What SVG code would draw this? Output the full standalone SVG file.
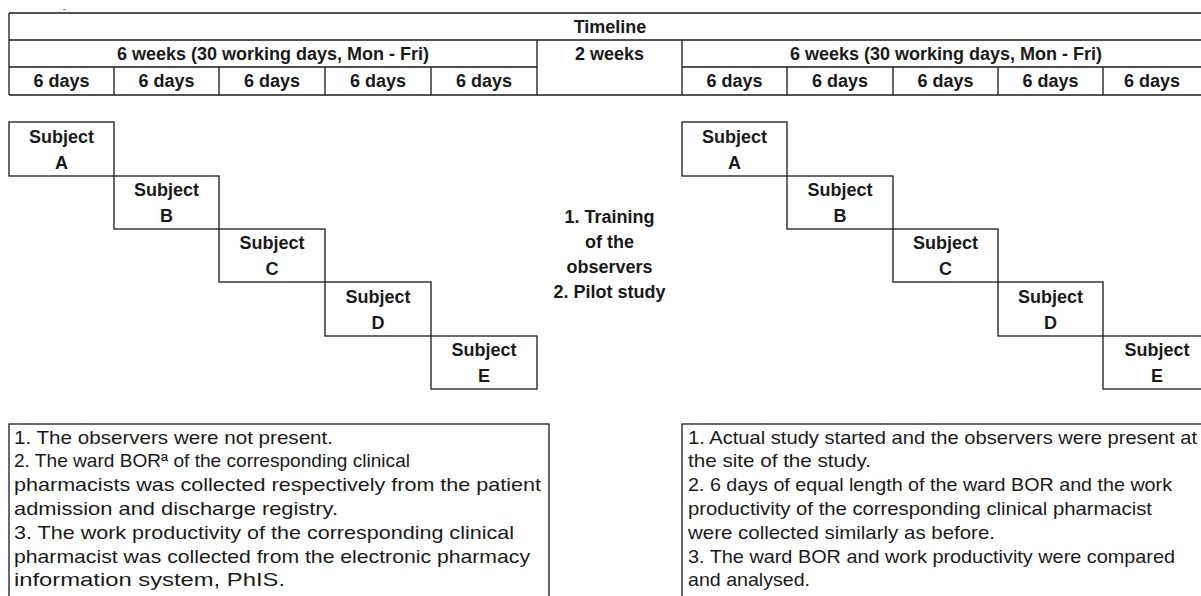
<svg xmlns="http://www.w3.org/2000/svg" width="1201" height="596" viewBox="0 0 1201 596">
<style>
 .ln{stroke:#1a1a1a;stroke-width:1.3;fill:none}
 .bx{fill:none;stroke:#1a1a1a;stroke-width:1.3}
 .b{font-family:"Liberation Sans",Arial,sans-serif;font-weight:bold;font-size:18px;fill:#1a1a1a;text-anchor:middle;dominant-baseline:central}
 .r{font-family:"Liberation Sans",Arial,sans-serif;font-size:18.5px;fill:#1a1a1a;dominant-baseline:central}
</style>
<rect width="1201" height="596" fill="#fff"/>
<rect x="63" y="9" width="3" height="1" fill="#888"/>
<g id="timeline">
 <path class="ln" d="M9,13H1212 M9,40H1212 M9,67H537 M682,67H1212 M9,95H1212 M9,13V95 M537,40V95 M682,40V95 M114,67V95 M219,67V95 M325,67V95 M431,67V95 M787,67V95 M893,67V95 M998,67V95 M1103,67V95"/>
 <text class="b" x="610" y="26.5">Timeline</text>
 <text class="b" x="273" y="53.5">6 weeks (30 working days, Mon - Fri)</text>
 <text class="b" x="609.5" y="53.5">2 weeks</text>
 <text class="b" x="946" y="53.5">6 weeks (30 working days, Mon - Fri)</text>
 <text class="b" x="61.5" y="81">6 days</text>
 <text class="b" x="166.5" y="81">6 days</text>
 <text class="b" x="272" y="81">6 days</text>
 <text class="b" x="378" y="81">6 days</text>
 <text class="b" x="484" y="81">6 days</text>
 <text class="b" x="734.5" y="81">6 days</text>
 <text class="b" x="840" y="81">6 days</text>
 <text class="b" x="945.5" y="81">6 days</text>
 <text class="b" x="1050.5" y="81">6 days</text>
 <text class="b" x="1152" y="81">6 days</text>
</g>
<g id="pre-subject-a"><rect class="bx" x="9" y="122" width="105" height="54"/><text class="b" x="61.5" y="137">Subject</text><text class="b" x="61.5" y="163">A</text></g>
<g id="pre-subject-b"><rect class="bx" x="114" y="176" width="105" height="53"/><text class="b" x="166.5" y="190">Subject</text><text class="b" x="166.5" y="216">B</text></g>
<g id="pre-subject-c"><rect class="bx" x="219" y="229" width="106" height="53"/><text class="b" x="272" y="243">Subject</text><text class="b" x="272" y="269">C</text></g>
<g id="pre-subject-d"><rect class="bx" x="325" y="282" width="106" height="54"/><text class="b" x="378" y="297">Subject</text><text class="b" x="378" y="323">D</text></g>
<g id="pre-subject-e"><rect class="bx" x="431" y="336" width="106" height="53"/><text class="b" x="484" y="350">Subject</text><text class="b" x="484" y="376">E</text></g>
<g id="post-subject-a"><rect class="bx" x="682" y="122" width="105" height="54"/><text class="b" x="734.5" y="137">Subject</text><text class="b" x="734.5" y="163">A</text></g>
<g id="post-subject-b"><rect class="bx" x="787" y="176" width="106" height="53"/><text class="b" x="840" y="190">Subject</text><text class="b" x="840" y="216">B</text></g>
<g id="post-subject-c"><rect class="bx" x="893" y="229" width="105" height="53"/><text class="b" x="945.5" y="243">Subject</text><text class="b" x="945.5" y="269">C</text></g>
<g id="post-subject-d"><rect class="bx" x="998" y="282" width="105" height="54"/><text class="b" x="1050.5" y="297">Subject</text><text class="b" x="1050.5" y="323">D</text></g>
<g id="post-subject-e"><rect class="bx" x="1103" y="336" width="108" height="53"/><text class="b" x="1157" y="350">Subject</text><text class="b" x="1157" y="376">E</text></g>
<g id="training">
 <text class="b" x="609.5" y="217">1. Training</text>
 <text class="b" x="609.5" y="242">of the</text>
 <text class="b" x="609.5" y="267">observers</text>
 <text class="b" x="609.5" y="292">2. Pilot study</text>
</g>
<g id="note-pre">
 <rect class="bx" x="9" y="424" width="540" height="200"/>
 <text class="r" x="14" y="437" textLength="319" lengthAdjust="spacingAndGlyphs">1. The observers were not present.</text>
 <text class="r" x="14" y="460.8" textLength="396" lengthAdjust="spacingAndGlyphs">2. The ward BORª of the corresponding clinical</text>
 <text class="r" x="14" y="484.6" textLength="527" lengthAdjust="spacingAndGlyphs">pharmacists was collected respectively from the patient</text>
 <text class="r" x="14" y="508.4" textLength="324" lengthAdjust="spacingAndGlyphs">admission and discharge registry.</text>
 <text class="r" x="14" y="532.2" textLength="500" lengthAdjust="spacingAndGlyphs">3. The work productivity of the corresponding clinical</text>
 <text class="r" x="14" y="556" textLength="516" lengthAdjust="spacingAndGlyphs">pharmacist was collected from the electronic pharmacy</text>
 <text class="r" x="14" y="579.8" textLength="271" lengthAdjust="spacingAndGlyphs">information system, PhIS.</text>
</g>
<g id="note-post">
 <rect class="bx" x="682" y="424" width="540" height="200"/>
 <text class="r" x="688" y="437" textLength="509" lengthAdjust="spacingAndGlyphs">1. Actual study started and the observers were present at</text>
 <text class="r" x="688" y="460.8" textLength="183" lengthAdjust="spacingAndGlyphs">the site of the study.</text>
 <text class="r" x="688" y="484.6" textLength="484" lengthAdjust="spacingAndGlyphs">2. 6 days of equal length of the ward BOR and the work</text>
 <text class="r" x="688" y="508.4" textLength="464" lengthAdjust="spacingAndGlyphs">productivity of the corresponding clinical pharmacist</text>
 <text class="r" x="688" y="532.2" textLength="307" lengthAdjust="spacingAndGlyphs">were collected similarly as before.</text>
 <text class="r" x="688" y="556" textLength="487" lengthAdjust="spacingAndGlyphs">3. The ward BOR and work productivity were compared</text>
 <text class="r" x="688" y="579.8" textLength="122" lengthAdjust="spacingAndGlyphs">and analysed.</text>
</g>
<g id="connectors"/>
</svg>
